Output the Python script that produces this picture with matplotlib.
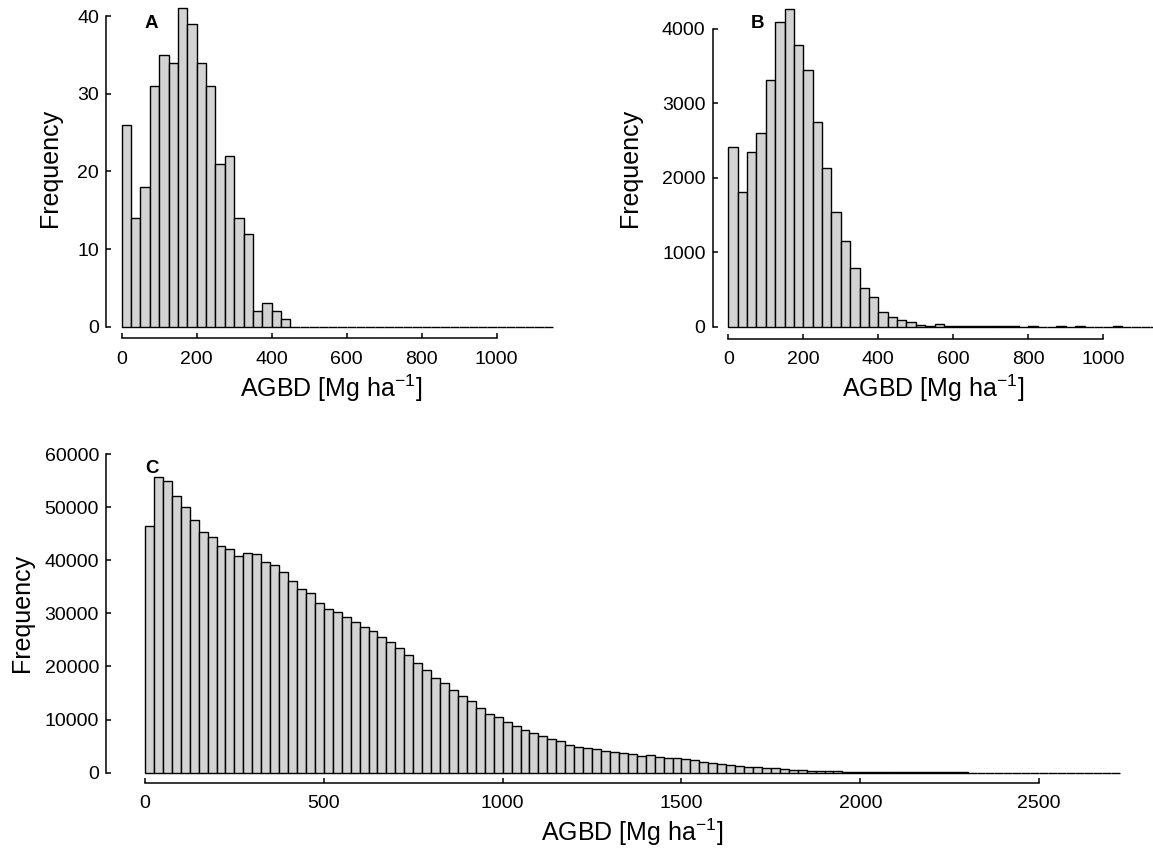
import numpy as np
import matplotlib
matplotlib.use("Agg")
import matplotlib.pyplot as plt

plt.rcParams['font.family'] = ['Liberation Sans', 'DejaVu Sans']
plt.rcParams['mathtext.fontset'] = 'custom'
plt.rcParams['mathtext.rm'] = 'Liberation Sans'
plt.rcParams['mathtext.it'] = 'Liberation Sans:italic'
plt.rcParams['mathtext.bf'] = 'Liberation Sans:bold'

# histogram data, bin width 25 Mg/ha, starting at 0
bin_width = 25

counts_a = [26, 14, 18, 31, 35, 34, 41, 39, 34, 31, 21, 22, 14, 12, 2, 3, 2, 1,
            0, 0, 0, 0, 0, 0, 0, 0, 0, 0, 0, 0, 0, 0, 0, 0, 0, 0, 0, 0, 0, 0,
            0, 0, 0, 0, 0, 0]

counts_b = [2410, 1810, 2350, 2600, 3320, 4090, 4270, 3790, 3450, 2750, 2130,
            1540, 1150, 790, 525, 394, 200, 130, 85, 60, 20, 15, 35, 12, 10, 10,
            8, 5, 4, 3, 3, 2, 3, 2, 2, 3, 2, 8, 2, 1, 2, 3, 2, 1, 2, 1]

counts_c_k = [46.4, 55.6, 54.9, 52.1, 50.0, 47.5, 45.3, 44.3, 42.6, 42.2, 40.8,
              41.4, 41.1, 39.7, 39.1, 37.8, 36.1, 34.6, 33.8, 32.0, 30.9, 30.2,
              29.3, 28.4, 27.4, 26.6, 25.6, 24.6, 23.5, 22.1, 20.6, 19.4, 17.8,
              16.9, 15.5, 14.5, 13.5,
              12.1, 11.1, 10.5, 9.5, 8.7, 8.1, 7.5, 6.9, 6.4, 5.9, 5.3, 4.9,
              4.6, 4.5, 4.15, 3.85, 3.7, 3.45, 3.15, 3.25, 2.95, 2.85, 2.75,
              2.65, 2.35, 2.05, 1.8, 1.55, 1.45, 1.3, 1.15, 1.05, 0.95, 0.8,
              0.7, 0.6, 0.45, 0.35, 0.3, 0.27, 0.25, 0.2, 0.18, 0.15, 0.13,
              0.12, 0.1, 0.09, 0.08, 0.07, 0.06, 0.05, 0.05, 0.04, 0.04, 0.035,
              0.03, 0.03, 0.025, 0.02, 0.02, 0.02, 0.015, 0.015, 0.01, 0.01,
              0.01, 0.008, 0.006, 0.005, 0.004, 0.003]
counts_c = [v * 1000 for v in counts_c_k]

xticks_ab = [0, 200, 400, 600, 800, 1000]
yticks_a = [0, 10, 20, 30, 40]
yticks_b = [0, 1000, 2000, 3000, 4000]
xticks_c = [0, 500, 1000, 1500, 2000, 2500]
yticks_c = [0, 10000, 20000, 30000, 40000, 50000, 60000]

xlab = r'AGBD [Mg ha$^{\mathregular{-1}}$]'
ylab = 'Frequency'

W, H = 1153, 849
fig = plt.figure(figsize=(W / 100, H / 100), dpi=100)


def axes_px(left, top, right, bottom):
    return fig.add_axes([left / W, 1 - bottom / H, (right - left) / W, (bottom - top) / H])


def r_style(ax, counts, xticks, yticks, letter, letter_xy, xlab_px, ylab_px):
    edges = np.arange(len(counts)) * bin_width
    ax.bar(edges, counts, width=bin_width, align='edge', color='#D3D3D3',
           edgecolor='black', linewidth=1.0, zorder=2)
    for s in ['top', 'right']:
        ax.spines[s].set_visible(False)
    ax.spines['left'].set_bounds(yticks[0], yticks[-1])
    ax.spines['bottom'].set_bounds(xticks[0], xticks[-1])
    ax.spines['left'].set_linewidth(1.1)
    ax.spines['bottom'].set_linewidth(1.1)
    ax.set_xticks(xticks)
    ax.set_yticks(yticks)
    ax.tick_params(direction='in', length=3.5, width=1.1, labelsize=14,
                   colors='black')
    ax.tick_params(axis='x', pad=9)
    ax.tick_params(axis='y', pad=5)
    ax.patch.set_visible(False)
    ax.text(letter_xy[0], letter_xy[1], letter, fontsize=13.5, fontweight='bold',
            ha='center', va='center')
    ax.set_xlabel(xlab, fontsize=18, va='center')
    ax.set_ylabel(ylab, fontsize=18, va='center')
    ax.xaxis.set_label_coords(xlab_px[0] / W, 1 - xlab_px[1] / H, transform=fig.transFigure)
    ax.yaxis.set_label_coords(ylab_px[0] / W, 1 - ylab_px[1] / H, transform=fig.transFigure)


# panel A
ax1 = axes_px(106.0, 0.2, 556.7, 338.4)
ax1.set_xlim(-42, 1160)
ax1.set_ylim(-1.5, 42.05)
r_style(ax1, counts_a, xticks_ab, yticks_a, 'A', (80, 39), (331, 388), (50, 168))

# panel B
ax2 = axes_px(712.5, 0.2, 1152.8, 339.0)
ax2.set_xlim(-42, 1132)
ax2.set_ylim(-165, 4385)
r_style(ax2, counts_b, xticks_ab, yticks_b, 'B', (79, 4077), (933, 388), (630, 168))

# panel C
ax3 = axes_px(106.0, 443.4, 1150.0, 783.0)
ax3.set_xlim(-109, 2810)
ax3.set_ylim(-1940, 62000)
r_style(ax3, counts_c, xticks_c, yticks_c, 'C', (19, 57300), (632, 832), (22, 613))

fig.savefig('out.png', dpi=100)
